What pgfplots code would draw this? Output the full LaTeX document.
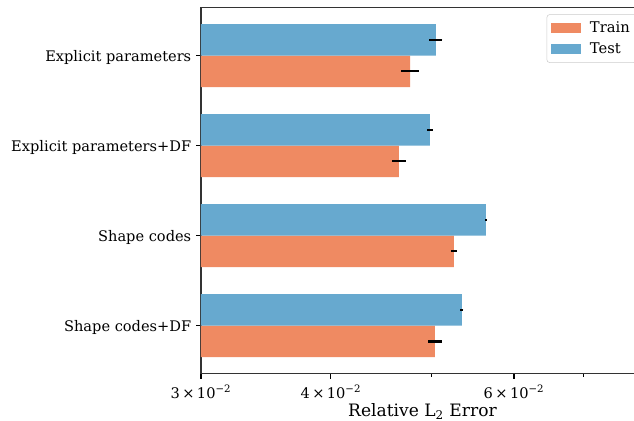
\documentclass[border=0pt]{standalone}
\usepackage{pgfplots}
\pgfplotsset{compat=1.18}
\usepackage{fontspec}
\setmainfont{DejaVu Serif}
\definecolor{trainc}{HTML}{EF8A62}
\definecolor{testc}{HTML}{67A9CF}
\begin{document}
\begin{tikzpicture}
\begin{axis}[
  scale only axis, width=318.96pt, height=263.9pt,
  xmode=log, xmin=0.03, xmax=0.08, log origin x=infty,
  ymin=-0.535, ymax=3.535, y dir=reverse,
  axis line style={line width=0.8pt, black!80},
  xtick pos=lower, ytick pos=left, tick align=outside,
  xtick={0.03,0.04,0.06}, minor xtick={0.05,0.07},
  xticklabels={3\,×\,10\textsuperscript{−2},4\,×\,10\textsuperscript{−2},6\,×\,10\textsuperscript{−2}},
  ytick={0,1,2,3},
  yticklabels={Explicit parameters,Explicit parameters+DF,Shape codes,Shape codes+DF},
  major tick length=3.5pt, minor tick length=2pt,
  every major tick/.style={black, line width=0.8pt},
  every minor tick/.style={black, line width=0.6pt},
  ticklabel style={font=\fontsize{10.5}{12}\selectfont, text=black},
  yticklabel style={yshift=-1.2pt},
  xticklabel style={yshift=-1pt},
  xlabel={Relative L\textsubscript{2} Error},
  xlabel style={font=\fontsize{12.3}{14}\selectfont, text=black, yshift=3pt},
  legend style={at={(1,1)}, anchor=north east, xshift=-5pt, yshift=-5pt,
    draw=black!20, rounded corners=2pt, fill=white, fill opacity=0.8, text opacity=1,
    font=\fontsize{10.6}{12.5}\selectfont, text=black, inner xsep=3pt, inner ysep=3pt, row sep=2pt},
  legend cell align=left,
  legend image code/.code={\fill[#1, sharp corners, fill opacity=1] (0pt,-3.6pt) rectangle (21.6pt,3.6pt); \path (26pt,0pt);},
]
\addplot[xbar, bar width=0.35, bar shift=0pt, fill=trainc, draw=none,
  error bars/.cd, x dir=both, x explicit, error mark=none,
  error bar style={line width=1.5pt, black}]
  coordinates {
  (0.04766,0.175) +- (0.00095,0)
  (0.04650,1.175) +- (0.00071,0)
  (0.05253,2.175) +- (0.00035,0)
  (0.05036,3.175) +- (0.00075,0)
  };
\addlegendentry{Train}
\addplot[xbar, bar width=0.35, bar shift=0pt, fill=testc, draw=none,
  error bars/.cd, x dir=both, x explicit, error mark=none,
  error bar style={line width=1.5pt, black}]
  coordinates {
  (0.05046,-0.175) +- (0.00075,0)
  (0.04981,0.825) +- (0.00032,0)
  (0.05638,1.825) +- (0.00010,0)
  (0.05346,2.825) +- (0.00018,0)
  };
\addlegendentry{Test}
\end{axis}
\pgfresetboundingbox
\path ([xshift=-144.72pt,yshift=-33.84pt]current axis.south west) rectangle ([xshift=-7.2pt,yshift=5.3pt]current axis.north east);
\end{tikzpicture}
\end{document}
